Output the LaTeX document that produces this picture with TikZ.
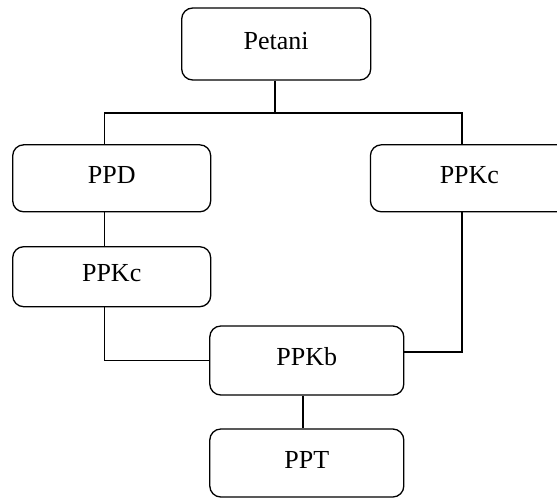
\documentclass[tikz,border=0pt]{standalone}
\usepackage{fontspec}
\setmainfont{Liberation Serif}
\usetikzlibrary{positioning}

\begin{document}
\begin{tikzpicture}[x=1pt,y=-1pt,
  every node/.style={font=\fontsize{26}{30}\selectfont},
  box/.style={draw, rounded corners=11pt, line width=1.3pt, minimum width=198pt, minimum height=67pt, inner sep=0pt, text height=18pt, text depth=8pt},
  link/.style={line width=1.1pt},
]
\clip (0,0) rectangle (557,498);
\node[box, minimum width=189pt, minimum height=72pt] (petani) at (276.2,44) {Petani};
\node[box] (ppd) at (111.7,178.3) {PPD};
\node[box] (ppkcr) at (469.4,178.3) {PPKc};
\node[box, minimum height=60pt] (ppkcl) at (111.7,276.7) {PPKc};
\node[box, minimum width=194pt, minimum height=69pt] (ppkb) at (306.8,360.5) {PPKb};
\node[box, minimum width=194pt, minimum height=68pt] (ppt) at (306.8,463) {PPT};
\coordinate (split) at (275,113);
\draw[link] (petani.south -| split) -- (split);
\draw[link] ([xshift=-7.4pt]ppd.north) |- (split) -| ([xshift=-7.4pt]ppkcr.north);
\draw[link] ([xshift=-7.4pt]ppd.south) -- ([xshift=-7.4pt]ppkcl.north);
\draw[link] ([xshift=-7.4pt]ppkcl.south) |- (ppkb.west);
\draw[link] ([xshift=-7.4pt]ppkcr.south) |- ([yshift=8.5pt]ppkb.east);
\draw[link] ([xshift=-3.8pt]ppkb.south) -- ([xshift=-3.8pt]ppt.north);
\end{tikzpicture}
\end{document}
